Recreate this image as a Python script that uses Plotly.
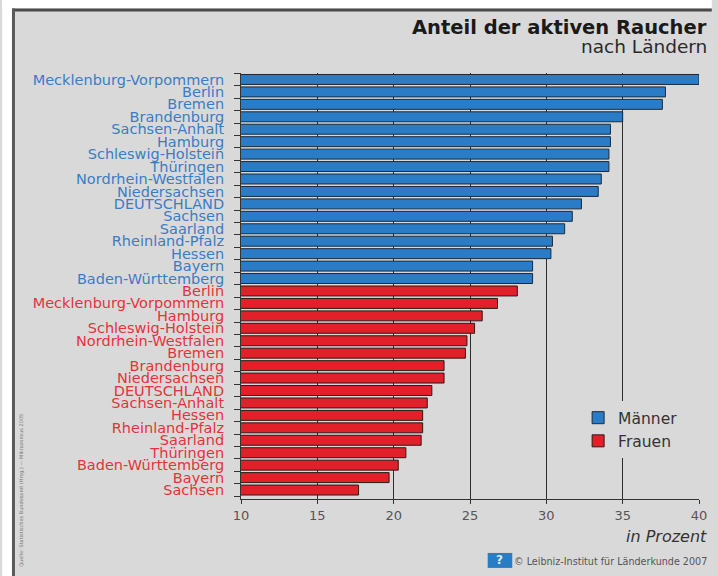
import plotly.graph_objects as go

# ---------------- data ----------------
men_labels = ["Mecklenburg-Vorpommern", "Berlin", "Bremen", "Brandenburg", "Sachsen-Anhalt",
              "Hamburg", "Schleswig-Holstein", "Thüringen", "Nordrhein-Westfalen", "Niedersachsen",
              "DEUTSCHLAND", "Sachsen", "Saarland", "Rheinland-Pfalz", "Hessen", "Bayern",
              "Baden-Württemberg"]
men_values = [40.0, 37.8, 37.6, 35.0, 34.2, 34.2, 34.1, 34.1, 33.6, 33.4,
              32.3, 31.7, 31.2, 30.4, 30.3, 29.1, 29.1]

women_labels = ["Berlin", "Mecklenburg-Vorpommern", "Hamburg", "Schleswig-Holstein",
                "Nordrhein-Westfalen", "Bremen", "Brandenburg", "Niedersachsen", "DEUTSCHLAND",
                "Sachsen-Anhalt", "Hessen", "Rheinland-Pfalz", "Saarland", "Thüringen",
                "Baden-Württemberg", "Bayern", "Sachsen"]
women_values = [28.1, 26.8, 25.8, 25.3, 24.8, 24.7, 23.3, 23.3, 22.5,
                22.2, 21.9, 21.9, 21.8, 20.8, 20.3, 19.7, 17.7]

x_ticks = [10, 15, 20, 25, 30, 35, 40]
series_names = ["Männer", "Frauen"]

title_text = "Anteil der aktiven Raucher"
subtitle_text = "nach Ländern"
unit_text = "in Prozent"
credit_text = "© Leibniz-Institut für Länderkunde 2007"
source_text = "Quelle: Statistisches Bundesamt (Hrsg.) — Mikrozensus 2005"

# ---------------- styling ----------------
W, H = 718, 576
L, R, T, B = 241, 707, 72.5, 499
BG = "#d9d9d9"
BLUE_BAR, RED_BAR = "#2b7cc6", "#e2202a"
BLUE_TXT, RED_TXT = "#3a7dc4", "#e5333b"
FONT = "DejaVu Sans"


def px_x(sx):
    return (sx - L) / (R - L)


def px_y(sy):
    return (B - sy) / (B - T)


n_men = len(men_labels)
men_pos = list(range(n_men))
women_pos = list(range(n_men, n_men + len(women_labels)))
n_all = n_men + len(women_labels)

tickvals = men_pos + women_pos
ticktext = ([f'<span style="color:{BLUE_TXT}">{t}</span>' for t in men_labels] +
            [f'<span style="color:{RED_TXT}">{t}</span>' for t in women_labels])

fig = go.Figure()
fig.add_trace(go.Bar(
    x=men_values, y=men_pos, orientation="h", name=series_names[0], width=0.8,
    marker=dict(color=BLUE_BAR, line=dict(color="#1e2a36", width=1)),
))
fig.add_trace(go.Bar(
    x=women_values, y=women_pos, orientation="h", name=series_names[1], width=0.8,
    marker=dict(color=RED_BAR, line=dict(color="#2a1a1a", width=1)),
))

shapes = [
    # white outer band (top and left)
    dict(type="rect", xref="paper", yref="paper", x0=px_x(-2), x1=px_x(W + 2),
         y0=px_y(8), y1=px_y(-2), fillcolor="white", line=dict(width=0), layer="below"),
    dict(type="rect", xref="paper", yref="paper", x0=px_x(-2), x1=px_x(8),
         y0=px_y(H + 2), y1=px_y(-2), fillcolor="white", line=dict(width=0), layer="below"),
    # frame lines top and left
    dict(type="line", xref="paper", yref="paper", x0=px_x(8), x1=px_x(W + 2),
         y0=px_y(9.5), y1=px_y(9.5), line=dict(color="#4a4a4a", width=3), layer="below"),
    dict(type="line", xref="paper", yref="paper", x0=px_x(9.5), x1=px_x(9.5),
         y0=px_y(8), y1=px_y(H + 2), line=dict(color="#5a5a5a", width=3), layer="below"),
    # logo
    dict(type="rect", xref="paper", yref="paper", x0=px_x(492), x1=px_x(517),
         y0=px_y(568), y1=px_y(553), fillcolor="#2a7cc4", line=dict(width=0)),
]

annotations = [
    dict(text=f"<b>{title_text}</b>", x=px_x(717), y=px_y(27), xref="paper", yref="paper",
         xanchor="right", yanchor="middle", showarrow=False,
         font=dict(family=FONT, size=19.5, color="#1a1a1a")),
    dict(text=subtitle_text, x=px_x(717), y=px_y(46), xref="paper", yref="paper",
         xanchor="right", yanchor="middle", showarrow=False,
         font=dict(family=FONT, size=18.5, color="#2a2a2a")),
    dict(text=f"<i>{unit_text}</i>", x=px_x(717), y=px_y(537), xref="paper", yref="paper",
         xanchor="right", yanchor="middle", showarrow=False,
         font=dict(family=FONT, size=16, color="#333333")),
    dict(text=credit_text, x=px_x(717), y=px_y(562), xref="paper", yref="paper",
         xanchor="right", yanchor="middle", showarrow=False,
         font=dict(family=FONT, size=9.6, color="#555555")),
    dict(text="<b>?</b>", x=px_x(504.5), y=px_y(560.5), xref="paper", yref="paper",
         xanchor="center", yanchor="middle", showarrow=False,
         font=dict(family=FONT, size=12, color="#dfe9f3")),
    dict(text=source_text, x=px_x(17), y=px_y(490), xref="paper", yref="paper",
         xanchor="center", yanchor="middle", showarrow=False, textangle=-90,
         font=dict(family=FONT, size=5, color="#777777")),
]

fig.update_layout(
    width=W, height=H,
    margin=dict(l=L, r=W - R, t=T, b=H - B, pad=0),
    paper_bgcolor=BG,
    plot_bgcolor="rgba(0,0,0,0)",
    barmode="overlay",
    showlegend=True,
    legend=dict(x=px_x(584), y=px_y(401), xanchor="left", yanchor="top",
                bgcolor=BG, font=dict(family=FONT, size=15.5, color="#333333"),
                traceorder="normal", itemwidth=30, tracegroupgap=0),
    shapes=shapes,
    annotations=annotations,
    font=dict(family=FONT),
)

fig.update_xaxes(
    range=[10, 40], tickvals=x_ticks, ticktext=[str(v) for v in x_ticks],
    showgrid=True, gridcolor="#2e2e2e", gridwidth=1,
    showline=True, linecolor="#333333", linewidth=1,
    ticks="outside", ticklen=4, tickcolor="#333333",
    tickfont=dict(family=FONT, size=13, color="#555555"),
    zeroline=False, fixedrange=True,
)

fig.update_yaxes(
    range=[n_all - 0.5 + 0.22, -0.52], tickmode="array", tickvals=tickvals, ticktext=ticktext,
    showgrid=False, showline=True, linecolor="#333333", linewidth=1,
    ticks="outside", ticklen=13, tickcolor="rgba(0,0,0,0)",
    tickfont=dict(family=FONT, size=14.5),
    minor=dict(tickmode="array", tickvals=[i - 0.5 for i in range(n_all + 1)],
               ticks="outside", ticklen=6, tickcolor="#333333", showgrid=False),
    zeroline=False, fixedrange=True,
)

fig.write_html("out.html", config={"displayModeBar": False},
               post_script="document.body.style.margin='0';document.body.style.overflow='hidden';")
